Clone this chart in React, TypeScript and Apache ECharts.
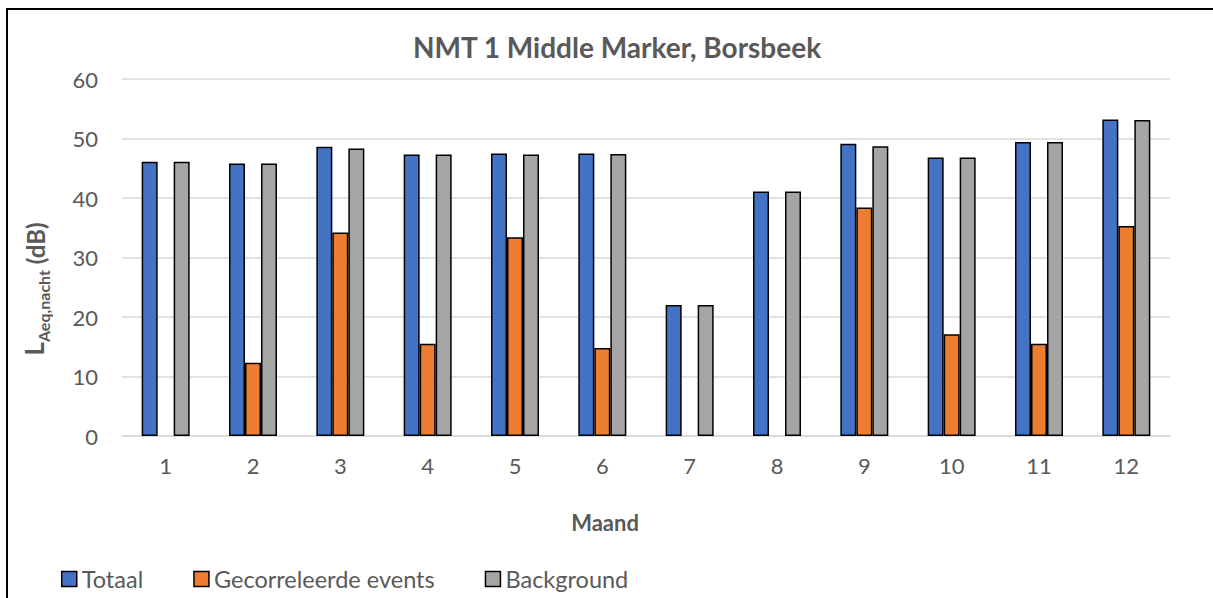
import React, { useEffect, useRef } from "react";
import * as echarts from "echarts";

const months = ["1", "2", "3", "4", "5", "6", "7", "8", "9", "10", "11", "12"];
const totaal = [46.1, 45.8, 48.6, 47.3, 47.5, 47.5, 22.0, 41.1, 49.1, 46.8, 49.4, 53.2];
const gecorreleerd = [null, 12.3, 34.2, 15.5, 33.4, 14.8, null, null, 38.4, 17.1, 15.5, 35.3];
const background = [46.1, 45.8, 48.3, 47.3, 47.3, 47.4, 22.0, 41.1, 48.7, 46.8, 49.4, 53.1];
const seriesNames = ["Totaal", "Gecorreleerde events", "Background"];
const colors = ["#4472C4", "#ED7D31", "#A5A5A5"];

const FONT = "Lato, 'Open Sans', sans-serif";
const TXT = "#595959";

export default function App() {
  const ref = useRef<HTMLDivElement>(null);
  useEffect(() => {
    if (!ref.current) return;
    const chart = echarts.init(ref.current, null, { renderer: "svg" });
    const data = [totaal, gecorreleerd, background];
    chart.setOption({
      animation: false,
      backgroundColor: "#ffffff",
      textStyle: { fontFamily: FONT },
      title: {
        text: "NMT 1 Middle Marker, Borsbeek",
        left: 408,
        top: 28,
        textStyle: { fontFamily: FONT, fontSize: 28, fontWeight: "bold", color: TXT },
      },
      grid: { left: 122, right: 43, top: 79, bottom: 162 },
      legend: {
        left: 56,
        top: 562,
        itemWidth: 15,
        itemHeight: 15,
        itemGap: 50,
        icon: "rect",
        data: seriesNames,
        textStyle: { fontFamily: FONT, fontSize: 23.5, color: TXT, padding: [0, 0, 0, 0] },
        itemStyle: { borderColor: "#000", borderWidth: 1.5 },
      },
      xAxis: {
        type: "category",
        data: months,
        axisLine: { lineStyle: { color: "#D9D9D9", width: 1.5 } },
        axisTick: { show: false },
        axisLabel: { fontFamily: FONT, fontSize: 22, color: TXT, margin: 18 },
      },
      yAxis: {
        type: "value",
        min: 0,
        max: 60,
        interval: 10,
        axisLine: { show: false },
        axisTick: { show: false },
        splitLine: { lineStyle: { color: "#D9D9D9", width: 1.5 } },
        axisLabel: { fontFamily: FONT, fontSize: 22, color: TXT, margin: 24 },
      },
      series: seriesNames.map((name, i) => ({
        name,
        type: "bar",
        data: data[i],
        barWidth: 16,
        barGap: "0%",
        itemStyle: { color: colors[i], borderColor: "#000", borderWidth: 1.5 },
      })),
      graphic: [
        {
          type: "rect",
          shape: { x: 7, y: 9, width: 1400, height: 800 },
          style: { fill: "none", stroke: "#000", lineWidth: 2 },
          silent: true,
        },
        {
          type: "text",
          x: 605,
          y: 522,
          style: {
            text: "Maand",
            fontFamily: FONT,
            fontSize: 22,
            fontWeight: "bold",
            fill: TXT,
            align: "center",
            verticalAlign: "middle",
          },
        },
        {
          type: "text",
          x: 31,
          y: 289,
          rotation: Math.PI / 2,
          style: {
            text: "{l|L}{s|Aeq,nacht}{b| (dB)}",
            align: "center",
            verticalAlign: "middle",
            fill: TXT,
            rich: {
              l: { fontFamily: FONT, fontSize: 26, fontWeight: "bold", fill: TXT, lineHeight: 32, verticalAlign: "bottom" },
              s: { fontFamily: FONT, fontSize: 16, fontWeight: "bold", fill: TXT, lineHeight: 32, verticalAlign: "bottom", padding: [0, 0, -4, 0] },
              b: { fontFamily: FONT, fontSize: 24, fontWeight: "bold", fill: TXT, lineHeight: 32, verticalAlign: "bottom" },
            },
          },
        },
      ],
    });
    return () => chart.dispose();
  }, []);
  return (
    <div
      ref={ref}
      style={{ position: "fixed", left: 0, top: 0, width: 1213, height: 598 }}
    />
  );
}
